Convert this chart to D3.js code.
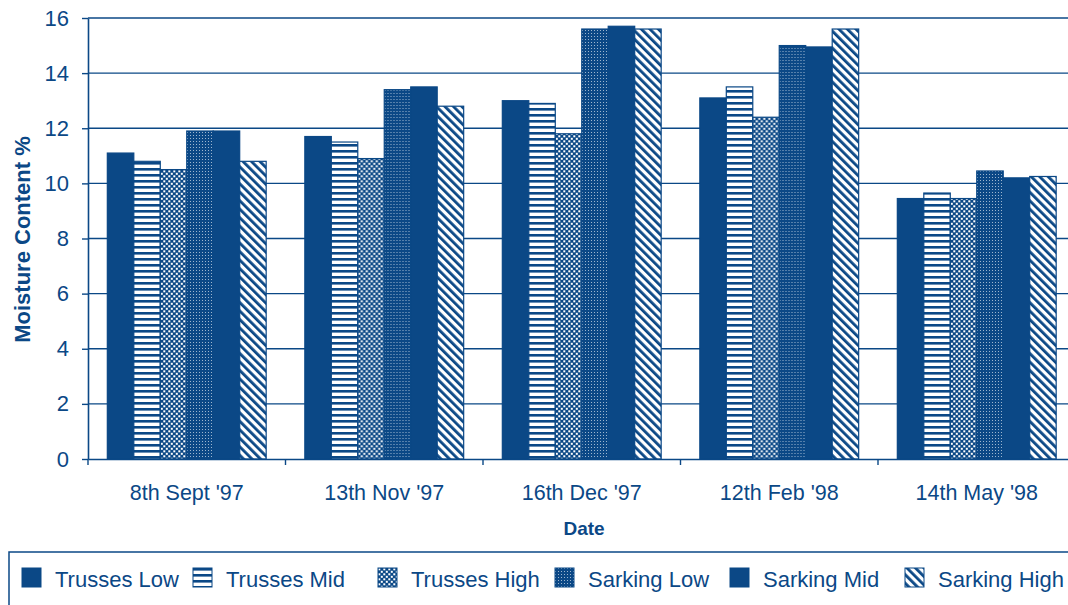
<!DOCTYPE html>
<html>
<head>
<meta charset="utf-8">
<script src="https://cdn.jsdelivr.net/npm/d3@7"></script>
<style>
  body { margin: 0; background: #fff; }
  svg { display: block; font-family: "Liberation Sans", Arial, sans-serif; }
</style>
</head>
<body>
<svg id="chart"></svg>
<script>
// data
const dates = ["8th Sept '97", "13th Nov '97", "16th Dec '97", "12th Feb '98", "14th May '98"];
const seriesNames = ["Trusses Low", "Trusses Mid", "Trusses High", "Sarking Low", "Sarking Mid", "Sarking High"];
const trussesLow = [11.1, 11.7, 13.0, 13.1, 9.45];
const trussesMid = [10.8, 11.5, 12.9, 13.5, 9.65];
const trussesHigh = [10.5, 10.9, 11.8, 12.4, 9.45];
const sarkingLow = [11.9, 13.4, 15.6, 15.0, 10.45];
const sarkingMid = [11.9, 13.5, 15.7, 14.95, 10.2];
const sarkingHigh = [10.8, 12.8, 15.6, 15.6, 10.25];
const yTicks = [0, 2, 4, 6, 8, 10, 12, 14, 16];

const allSeries = [trussesLow, trussesMid, trussesHigh, sarkingLow, sarkingMid, sarkingHigh];
const data = dates.map((d, i) => ({
  date: d,
  values: seriesNames.map((s, j) => ({ key: s, value: allSeries[j][i] }))
}));

const navy = '#0b4886';
const W = 1068, H = 605;
const margin = { top: 18, left: 88, bottom: 146 };

const svg = d3.select('#chart').attr('width', W).attr('height', H);
const defs = svg.append('defs');

// fill patterns, one per series
function pattern(id, w, h) {
  return defs.append('pattern')
    .attr('id', id)
    .attr('patternUnits', 'userSpaceOnUse')
    .attr('width', w).attr('height', h);
}
let p = pattern('p-tmid', 6, 6);
p.append('rect').attr('width', 6).attr('height', 6).attr('fill', '#fff');
p.append('rect').attr('width', 6).attr('height', 2.6).attr('fill', navy);

p = pattern('p-thigh', 5, 5);
p.append('rect').attr('width', 5).attr('height', 5).attr('fill', navy);
p.append('rect').attr('x', 0.3).attr('y', 0.3).attr('width', 2).attr('height', 2).attr('fill', '#fff');
p.append('rect').attr('x', 2.8).attr('y', 2.8).attr('width', 2).attr('height', 2).attr('fill', '#fff');

p = pattern('p-slow', 3, 3);
p.append('rect').attr('width', 3).attr('height', 3).attr('fill', navy);
p.append('rect').attr('width', 1).attr('height', 1).attr('fill', '#fff').attr('opacity', 0.6);

p = pattern('p-shigh', 6, 6).attr('patternTransform', 'rotate(-45)');
p.append('rect').attr('width', 6).attr('height', 6).attr('fill', '#fff');
p.append('rect').attr('width', 2.8).attr('height', 6).attr('fill', navy);

const fills = {
  'Trusses Low': navy,
  'Trusses Mid': 'url(#p-tmid)',
  'Trusses High': 'url(#p-thigh)',
  'Sarking Low': 'url(#p-slow)',
  'Sarking Mid': navy,
  'Sarking High': 'url(#p-shigh)'
};

const x0 = d3.scaleBand().domain(dates).range([margin.left, margin.left + 197.5 * dates.length]).padding(0);
const x1 = d3.scaleBand().domain(seriesNames).range([0, x0.bandwidth()]).paddingInner(0).paddingOuter(0.73);
const y = d3.scaleLinear().domain([0, 16]).range([H - margin.bottom, margin.top]);

// gridlines + top border
svg.append('g')
  .selectAll('line')
  .data(yTicks.slice(1))
  .join('line')
  .attr('x1', margin.left).attr('x2', W)
  .attr('y1', d => y(d)).attr('y2', d => y(d))
  .attr('stroke', navy).attr('stroke-width', 1.4);

// bars
svg.append('g')
  .selectAll('g')
  .data(data)
  .join('g')
  .attr('transform', d => `translate(${x0(d.date)},0)`)
  .selectAll('rect')
  .data(d => d.values)
  .join('rect')
  .attr('x', d => x1(d.key))
  .attr('y', d => y(d.value))
  .attr('width', x1.bandwidth())
  .attr('height', d => y(0) - y(d.value))
  .attr('fill', d => fills[d.key])
  .attr('stroke', navy)
  .attr('stroke-width', 1.2);

// y axis
const yAxis = d3.axisLeft(y).tickValues(yTicks).tickSize(6).tickSizeOuter(0).tickPadding(13);
const yG = svg.append('g').attr('transform', `translate(${margin.left},0)`).call(yAxis);
yG.selectAll('text').attr('fill', navy).style('font-size', '22px');

// x axis: labels centred, ticks at the group boundaries
const xAxis = d3.axisBottom(x0).tickSize(0).tickPadding(26).tickSizeOuter(0);
const xG = svg.append('g').attr('transform', `translate(0,${y(0)})`).call(xAxis);
xG.selectAll('text').attr('fill', navy).style('font-size', '21.5px');
xG.selectAll('.tick').append('line')
  .attr('x1', -x0.bandwidth() / 2).attr('x2', -x0.bandwidth() / 2)
  .attr('y2', 6).attr('stroke', navy);
svg.selectAll('.domain').attr('stroke', navy).attr('stroke-width', 1.6);
svg.selectAll('.tick line').attr('stroke', navy).attr('stroke-width', 1.4);

// axis titles
svg.append('text')
  .attr('transform', `translate(30,${(y(0) + y(16)) / 2 + 1}) rotate(-90)`)
  .attr('text-anchor', 'middle')
  .attr('fill', navy)
  .style('font-size', '22px').style('font-weight', 'bold')
  .text('Moisture Content %');

svg.append('text')
  .attr('x', 584).attr('y', 535)
  .attr('text-anchor', 'middle')
  .attr('fill', navy)
  .style('font-size', '19px').style('font-weight', 'bold')
  .text('Date');

// legend
const legend = svg.append('g');
legend.append('rect')
  .attr('x', 9).attr('y', 552).attr('width', 1100).attr('height', 100)
  .attr('fill', 'none').attr('stroke', navy).attr('stroke-width', 1.5);
const legendX = [22, 193, 378, 555, 730, 905];
const item = legend.selectAll('g.item')
  .data(seriesNames)
  .join('g')
  .attr('class', 'item')
  .attr('transform', (d, i) => `translate(${legendX[i]},568)`);
item.append('rect')
  .attr('width', 19).attr('height', 19)
  .attr('fill', d => fills[d])
  .attr('stroke', navy).attr('stroke-width', 1);
item.append('text')
  .attr('x', 33).attr('y', 19)
  .attr('fill', navy)
  .style('font-size', '22px')
  .text(d => d);
</script>
</body>
</html>
